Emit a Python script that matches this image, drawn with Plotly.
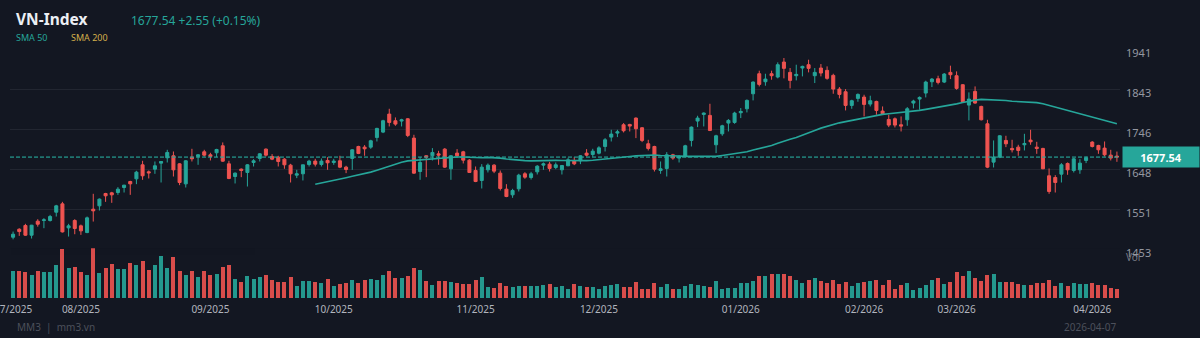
import plotly.graph_objects as go
import pandas as pd

# ---------------- data ----------------
opens = [1482.2,1501.7,1510.7,1487.1,1521.3,1523.0,1522.9,1543.2,1563.5,1505.0,
         1522.9,1509.9,1493.6,1550.5,1558.7,1588.8,1590.4,1591.2,1603.4,1618.0,
         1624.5,1658.7,1641.6,1648.1,1662.8,1675.8,1680.7,1661.1,1612.3,1677.4,
         1679.0,1690.4,1683.1,1688.0,1705.1,1661.1,1630.2,1648.1,1640.0,1664.4,
         1674.2,1696.9,1679.0,1677.4,1672.5,1657.9,1633.5,1636.8,1659.5,1667.7,
         1659.5,1669.3,1664.4,1668.5,1653.0,1674.2,1703.4,1701.8,1701.8,1725.4,
         1738.4,1782.3,1766.1,1765.3,1770.9,1723.8,1642.4,1680.7,1680.7,1685.5,
         1696.9,1649.0,1687.2,1690.4,1670.1,1644.9,1620.5,1646.5,1657.9,1638.4,
         1599.3,1585.5,1600.2,1636.8,1627.8,1641.6,1657.9,1660.3,1652.2,1646.5,
         1656.3,1669.3,1668.5,1687.2,1683.9,1687.0,1703.4,1726.2,1736.0,1756.3,
         1757.1,1772.6,1749.0,1710.0,1703.4,1644.9,1649.8,1683.1,1675.0,1679.0,
         1718.1,1765.3,1781.5,1779.1,1707.5,1734.3,1760.4,1762.0,1785.6,1795.3,
         1831.9,1880.7,1861.2,1880.7,1872.6,1909.2,1884.0,1875.9,1894.6,1902.7,
         1875.9,1894.6,1888.9,1876.7,1843.3,1836.8,1803.5,1820.6,1823.8,1806.7,
         1813.2,1789.7,1769.3,1770.9,1756.3,1768.5,1809.2,1818.9,1833.6,1861.2,
         1868.5,1860.4,1884.0,1875.9,1853.9,1804.3,1837.6,1801.0,1758.7,1665.2,
         1677.4,1718.1,1698.6,1701.8,1707.5,1718.9,1701.8,1698.6,1631.9,1627.8,
         1635.9,1662.0,1644.9,1646.5,1669.3,1714.0,1705.9,1699.4,1682.3,1680.0]
highs = [1496.0,1504.0,1514.8,1512.3,1526.1,1528.6,1536.7,1561.1,1568.4,1514.8,
         1526.1,1513.1,1532.6,1588.0,1576.6,1590.4,1592.8,1604.2,1609.9,1619.7,
         1644.1,1668.5,1644.9,1666.8,1667.6,1695.3,1691.2,1662.8,1670.1,1697.7,
         1684.7,1695.3,1688.0,1697.7,1713.2,1668.5,1640.0,1649.8,1660.3,1672.5,
         1687.2,1698.6,1684.7,1680.7,1675.0,1661.1,1646.5,1658.7,1670.9,1673.3,
         1674.2,1677.4,1673.3,1680.7,1656.3,1696.9,1705.1,1706.7,1719.7,1749.0,
         1768.5,1795.3,1774.2,1770.9,1772.6,1731.9,1677.4,1681.5,1699.4,1692.8,
         1699.4,1682.3,1696.9,1692.8,1672.5,1654.6,1660.3,1662.0,1660.3,1644.9,
         1611.5,1600.2,1636.8,1640.8,1641.6,1657.9,1664.4,1666.0,1664.4,1657.9,
         1675.8,1677.4,1682.3,1696.9,1697.7,1704.0,1723.8,1744.1,1744.1,1760.4,
         1758.7,1774.2,1750.6,1719.7,1705.1,1666.8,1689.6,1685.5,1682.3,1707.5,
         1752.2,1778.3,1786.4,1807.5,1731.9,1756.3,1770.2,1788.0,1797.0,1818.1,
         1862.0,1888.1,1880.7,1888.1,1908.4,1919.0,1894.6,1902.7,1900.3,1914.9,
         1894.6,1904.3,1898.6,1880.7,1848.2,1843.3,1817.3,1832.7,1829.5,1827.1,
         1814.9,1801.0,1780.7,1774.2,1776.6,1799.4,1817.3,1825.4,1863.7,1870.2,
         1875.9,1882.4,1900.3,1886.4,1855.5,1835.2,1849.8,1802.7,1768.5,1718.1,
         1731.1,1729.5,1719.7,1707.5,1734.3,1744.1,1714.8,1700.2,1649.8,1633.5,
         1662.8,1664.4,1675.0,1672.5,1679.0,1716.4,1707.5,1715.6,1695.3,1691.0]
lows = [1477.0,1485.5,1485.5,1479.0,1508.0,1504.2,1520.4,1532.6,1493.6,1483.8,
        1489.5,1487.9,1492.0,1520.4,1547.3,1568.4,1566.0,1585.5,1591.2,1585.5,
        1611.5,1622.1,1625.4,1636.7,1615.6,1664.4,1630.2,1609.1,1603.4,1666.8,
        1658.7,1679.0,1669.3,1677.4,1666.0,1623.7,1613.2,1628.6,1605.8,1654.6,
        1666.8,1679.0,1670.1,1654.6,1649.0,1615.6,1626.2,1620.5,1654.6,1654.6,
        1654.6,1646.5,1658.7,1650.6,1638.4,1646.5,1684.7,1680.7,1697.7,1715.6,
        1736.0,1752.2,1753.9,1752.2,1726.2,1636.8,1622.1,1628.6,1669.3,1658.7,
        1651.4,1622.1,1677.4,1662.0,1639.2,1616.4,1601.0,1640.0,1638.4,1596.1,
        1579.8,1578.2,1593.7,1624.6,1622.9,1635.1,1646.5,1642.4,1648.1,1635.1,
        1655.4,1657.9,1660.3,1679.0,1678.2,1684.0,1691.2,1715.6,1726.2,1737.6,
        1740.0,1723.8,1714.0,1693.7,1642.4,1636.8,1630.2,1670.9,1664.4,1677.4,
        1703.4,1750.6,1752.2,1740.9,1687.2,1729.5,1740.0,1758.7,1772.6,1786.4,
        1815.7,1849.8,1851.5,1866.1,1869.4,1869.4,1845.0,1864.5,1874.2,1884.0,
        1858.0,1874.2,1866.1,1831.9,1820.6,1791.3,1795.3,1812.4,1776.6,1801.0,
        1780.7,1780.7,1750.6,1749.8,1740.0,1753.9,1796.2,1792.9,1823.0,1848.2,
        1854.7,1858.0,1867.7,1841.7,1810.8,1766.9,1807.5,1766.9,1650.6,1652.2,
        1675.0,1701.8,1688.8,1680.7,1693.7,1707.5,1685.5,1648.1,1588.0,1591.2,
        1615.6,1634.3,1640.0,1636.8,1662.8,1701.0,1685.5,1679.0,1669.3,1666.0]
closes = [1489.5,1496.0,1487.1,1511.5,1513.9,1524.5,1532.6,1558.7,1495.2,1509.9,
          1503.4,1497.7,1529.4,1546.5,1575.0,1583.1,1585.5,1599.3,1609.1,1612.3,
          1640.8,1631.9,1639.2,1656.3,1666.8,1688.8,1646.5,1615.6,1668.5,1673.3,
          1683.1,1682.3,1679.0,1696.1,1667.6,1625.4,1638.4,1644.9,1658.7,1668.5,
          1685.5,1682.3,1672.5,1666.8,1658.7,1636.7,1636.7,1658.7,1667.7,1660.3,
          1667.7,1663.6,1667.7,1653.0,1647.3,1695.3,1686.4,1697.7,1717.3,1747.4,
          1766.1,1762.0,1757.9,1768.5,1730.3,1638.4,1664.4,1677.4,1688.8,1682.3,
          1653.0,1680.7,1680.7,1670.1,1640.0,1618.0,1653.0,1657.9,1643.3,1601.0,
          1581.4,1596.1,1633.5,1628.6,1636.8,1655.4,1661.1,1649.8,1658.7,1657.1,
          1670.9,1661.1,1680.7,1682.3,1692.0,1700.0,1719.7,1733.5,1739.2,1741.7,
          1753.1,1746.6,1718.1,1698.6,1648.1,1649.0,1683.1,1675.0,1679.0,1705.1,
          1750.6,1772.6,1784.8,1742.5,1729.5,1753.9,1766.9,1784.8,1788.8,1815.7,
          1860.4,1854.7,1867.7,1875.9,1902.7,1893.8,1864.5,1879.1,1898.6,1893.8,
          1884.0,1882.4,1869.4,1843.3,1830.3,1803.5,1814.9,1830.3,1805.9,1814.9,
          1791.3,1783.1,1755.5,1755.5,1753.1,1795.3,1814.0,1823.0,1860.4,1867.7,
          1859.6,1879.9,1878.3,1845.0,1812.4,1818.9,1809.2,1768.5,1653.0,1677.4,
          1729.5,1709.9,1695.3,1693.7,1710.7,1714.8,1698.6,1649.0,1593.7,1615.6,
          1658.7,1646.5,1673.3,1662.8,1675.8,1703.4,1695.3,1683.1,1675.0,1677.54]
volumes = [800,820,790,690,810,790,790,1000,1470,900,
           920,780,690,1500,750,900,1020,880,880,1040,
           980,1120,850,1000,1270,910,1240,810,690,820,
           620,820,700,730,920,990,570,470,670,570,
           630,690,550,490,490,640,370,520,500,490,
           440,570,360,410,440,550,440,550,570,550,
           680,820,610,590,670,900,830,500,380,500,
           500,480,450,420,430,530,620,330,290,450,
           360,320,370,350,350,350,380,410,320,360,
           280,430,370,320,340,280,350,390,410,340,
           330,490,270,260,450,320,410,260,260,350,
           410,400,370,340,500,270,290,310,440,460,
           500,650,670,730,710,730,650,530,450,530,
           610,510,460,540,410,470,350,450,480,500,
           530,380,550,280,390,440,240,310,400,530,
           590,410,470,770,670,810,600,520,700,730,
           490,470,480,410,400,390,450,460,530,370,
           440,350,440,410,430,450,400,380,300,280]
month_ticks = [0, 11, 32, 52, 75, 95, 118, 138, 153, 175]
month_labels = ["07/2025", "08/2025", "09/2025", "10/2025", "11/2025",
                "12/2025", "01/2026", "02/2026", "03/2026", "04/2026"]
price_ticks = [1453.0, 1550.6, 1648.2, 1745.8, 1843.4, 1941.0]
price_labels = ["1453", "1551", "1648", "1746", "1843", "1941"]
last_price = 1677.54
last_change = 2.55
last_change_pct = 0.15
last_date = "2026-04-07"

# ---------------- styling ----------------
BG = "#131722"
UP = "#26a69a"
DOWN = "#ef5350"
GRID = "#222631"
FONT = "Noto Sans"

x = list(range(len(closes)))
sma50 = pd.Series(closes).rolling(50).mean()
vol_colors = [UP if c >= o else DOWN for o, c in zip(opens, closes)]

L, R, T, B = 10, 80, 49, 40
W, H = 1200, 338
PW, PH = W - L - R, H - T - B


def px_x(px):
    return (px - L) / PW


def px_y(py):
    return (H - B - py) / PH


fig = go.Figure()

fig.add_trace(go.Bar(
    x=x, y=volumes, marker=dict(color=vol_colors, line=dict(width=0)),
    opacity=0.9, width=0.66, yaxis="y2", hoverinfo="skip", showlegend=False))

fig.add_trace(go.Candlestick(
    x=x, open=opens, high=highs, low=lows, close=closes,
    increasing=dict(line=dict(color=UP, width=1), fillcolor=UP),
    decreasing=dict(line=dict(color=DOWN, width=1), fillcolor=DOWN),
    whiskerwidth=0, showlegend=False, yaxis="y"))

fig.add_trace(go.Scatter(
    x=x, y=sma50, mode="lines", line=dict(color=UP, width=1.6),
    hoverinfo="skip", showlegend=False, yaxis="y"))

fig.add_shape(type="line", xref="paper", x0=0, x1=1, yref="y",
              y0=last_price, y1=last_price, layer="above",
              line=dict(color="rgba(38,166,154,0.65)", width=1.6, dash="4px,2px"))

ann = []
ann.append(dict(xref="paper", yref="y", x=px_x(1122), y=last_price,
                xanchor="left", yanchor="middle",
                text="<b>%.2f</b>" % last_price, showarrow=False,
                bgcolor=UP, width=72, height=16, borderpad=2,
                font=dict(color="#ffffff", size=11, family=FONT)))
ann.append(dict(xref="paper", yref="paper", x=px_x(14), y=px_y(19),
                xanchor="left", yanchor="middle", text="<b>VN-Index</b>",
                showarrow=False, font=dict(color="#eceff4", size=15.5, family=FONT)))
ann.append(dict(xref="paper", yref="paper", x=px_x(129), y=px_y(20),
                xanchor="left", yanchor="middle",
                text="%.2f +%.2f (+%.2f%%)" % (last_price, last_change, last_change_pct),
                showarrow=False, font=dict(color=UP, size=12, family=FONT)))
ann.append(dict(xref="paper", yref="paper", x=px_x(14), y=px_y(38),
                xanchor="left", yanchor="middle", text="SMA 50",
                showarrow=False, font=dict(color=UP, size=9, family=FONT)))
ann.append(dict(xref="paper", yref="paper", x=px_x(69), y=px_y(38),
                xanchor="left", yanchor="middle", text="SMA 200",
                showarrow=False, font=dict(color="#d4b04c", size=9, family=FONT)))
ann.append(dict(xref="paper", yref="paper", x=px_x(1124), y=px_y(257),
                xanchor="left", yanchor="middle", text="Vol",
                showarrow=False, font=dict(color="#787b86", size=10, family=FONT)))
ann.append(dict(xref="paper", yref="paper", x=px_x(15), y=px_y(327),
                xanchor="left", yanchor="middle", text="MM3  |  mm3.vn",
                showarrow=False, font=dict(color="#4c505b", size=10, family=FONT)))
ann.append(dict(xref="paper", yref="paper", x=px_x(1118), y=px_y(327),
                xanchor="right", yanchor="middle", text=last_date,
                showarrow=False, font=dict(color="#4c505b", size=10, family=FONT)))

fig.update_layout(
    width=W, height=H, margin=dict(l=L, r=R, t=T, b=B, autoexpand=False),
    paper_bgcolor=BG, plot_bgcolor=BG,
    showlegend=False, bargap=0,
    font=dict(family=FONT, color="#b2b5be"),
    annotations=ann,
    xaxis=dict(range=[-0.5, len(closes) - 0.5], showgrid=False, zeroline=False,
               anchor="y2", ticklabeloverflow="allow", automargin=False,
               tickmode="array", tickvals=month_ticks, ticktext=month_labels,
               tickfont=dict(size=10, color="#b2b5be"), ticks="",
               ticklabelstandoff=4,
               rangeslider=dict(visible=False), showline=False, fixedrange=True),
    yaxis=dict(domain=[0.196, 1], range=[price_ticks[0], price_ticks[-1]],
               side="right", tickmode="array", tickvals=price_ticks,
               ticktext=price_labels, gridcolor=GRID, gridwidth=1,
               zeroline=False, showline=False, ticks="", automargin=False,
               ticklabelstandoff=5, ticklabelshift=4,
               tickfont=dict(size=11, color="#9598a1")),
    yaxis2=dict(domain=[0, 0.2], range=[0, 1500], showgrid=False,
                showticklabels=False, zeroline=False, anchor="x",
                automargin=False),
)

fig.write_html("out.html")
